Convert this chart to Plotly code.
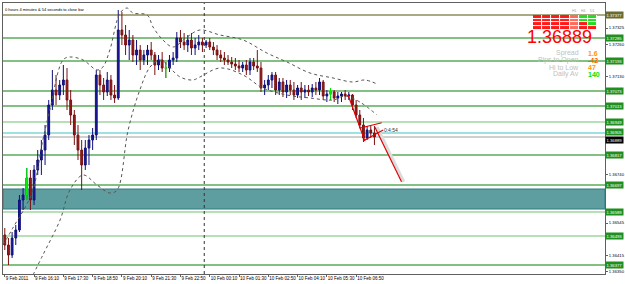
import plotly.graph_objects as go

# ---------------- data ----------------
bar_index = list(range(102))
open_p = [1.36497, 1.36457, 1.36417, 1.36485, 1.36517, 1.36637, 1.36657, 1.36725, 1.36637, 1.36757,
          1.36797, 1.36837, 1.36897, 1.37017, 1.37077, 1.37057, 1.37097, 1.37117, 1.37037, 1.36977,
          1.36897, 1.36837, 1.36777, 1.36845, 1.36877, 1.36897, 1.37137, 1.37097, 1.37069, 1.37117,
          1.37057, 1.37045, 1.37317, 1.37297, 1.37257, 1.37277, 1.37217, 1.37237, 1.37197, 1.37217,
          1.37237, 1.37217, 1.37177, 1.37197, 1.37165, 1.37165, 1.37197, 1.37205, 1.37285, 1.37269,
          1.37257, 1.37277, 1.37245, 1.37257, 1.37269, 1.37257, 1.37269, 1.37249, 1.37237, 1.37217,
          1.37205, 1.37197, 1.37189, 1.37181, 1.37173, 1.37165, 1.37177, 1.37157, 1.37189, 1.37173,
          1.37165, 1.37085, 1.37097, 1.37117, 1.37137, 1.37077, 1.37109, 1.37069, 1.37097, 1.37077,
          1.37057, 1.37085, 1.37069, 1.37077, 1.37069, 1.37085, 1.37077, 1.37109, 1.37053, 1.37061,
          1.37069, 1.37045, 1.37053, 1.37061, 1.37053, 1.37057, 1.37017, 1.36977, 1.36937, 1.36885,
          1.36917, 1.36905]
high_p = [1.36525, 1.36485, 1.36509, 1.36537, 1.36657, 1.36685, 1.36765, 1.36757, 1.36777, 1.36837,
          1.36877, 1.36937, 1.37037, 1.37157, 1.37137, 1.37117, 1.37177, 1.37165, 1.37077, 1.36997,
          1.36937, 1.36877, 1.36877, 1.36897, 1.36925, 1.37157, 1.37157, 1.37125, 1.37149, 1.37137,
          1.37097, 1.37397, 1.37389, 1.37337, 1.37317, 1.37297, 1.37277, 1.37257, 1.37237, 1.37257,
          1.37269, 1.37229, 1.37217, 1.37229, 1.37189, 1.37217, 1.37229, 1.37309, 1.37317, 1.37305,
          1.37297, 1.37305, 1.37285, 1.37297, 1.37285, 1.37277, 1.37285, 1.37269, 1.37257, 1.37237,
          1.37229, 1.37217, 1.37209, 1.37205, 1.37197, 1.37189, 1.37197, 1.37205, 1.37205, 1.37237,
          1.37189, 1.37117, 1.37137, 1.37149, 1.37149, 1.37125, 1.37125, 1.37117, 1.37117, 1.37109,
          1.37097, 1.37109, 1.37097, 1.37097, 1.37101, 1.37109, 1.37125, 1.37117, 1.37077, 1.37085,
          1.37077, 1.37069, 1.37069, 1.37077, 1.37069, 1.37061, 1.37037, 1.36997, 1.36965, 1.36933,
          1.36933, 1.36933]
low_p = [1.36437, 1.36377, 1.36405, 1.36457, 1.36509, 1.36597, 1.36637, 1.36597, 1.36617, 1.36737,
         1.36737, 1.36777, 1.36877, 1.36997, 1.37017, 1.37037, 1.37057, 1.36997, 1.36937, 1.36857,
         1.36797, 1.36677, 1.36757, 1.36777, 1.36837, 1.36877, 1.37057, 1.37037, 1.37053, 1.37037,
         1.37025, 1.37037, 1.37257, 1.37217, 1.37197, 1.37189, 1.37177, 1.37157, 1.37177, 1.37177,
         1.37197, 1.37137, 1.37157, 1.37149, 1.37125, 1.37149, 1.37177, 1.37189, 1.37245, 1.37237,
         1.37229, 1.37217, 1.37217, 1.37237, 1.37229, 1.37245, 1.37237, 1.37217, 1.37197, 1.37189,
         1.37177, 1.37177, 1.37165, 1.37157, 1.37149, 1.37149, 1.37137, 1.37137, 1.37157, 1.37149,
         1.37069, 1.37057, 1.37077, 1.37085, 1.37057, 1.37057, 1.37049, 1.37045, 1.37057, 1.37037,
         1.37045, 1.37037, 1.37045, 1.37053, 1.37049, 1.37057, 1.37057, 1.37037, 1.37029, 1.37037,
         1.37029, 1.37021, 1.37029, 1.37037, 1.37037, 1.36997, 1.36965, 1.36925, 1.36869, 1.36877,
         1.36885, 1.36857]
close_p = [1.36457, 1.36417, 1.36485, 1.36517, 1.36637, 1.36657, 1.36725, 1.36637, 1.36757, 1.36797,
           1.36837, 1.36897, 1.37017, 1.37077, 1.37057, 1.37097, 1.37117, 1.37037, 1.36977, 1.36897,
           1.36837, 1.36777, 1.36845, 1.36877, 1.36897, 1.37137, 1.37097, 1.37069, 1.37117, 1.37057,
           1.37045, 1.37317, 1.37297, 1.37257, 1.37277, 1.37217, 1.37237, 1.37197, 1.37217, 1.37237,
           1.37217, 1.37177, 1.37197, 1.37165, 1.37165, 1.37197, 1.37205, 1.37285, 1.37269, 1.37257,
           1.37277, 1.37245, 1.37257, 1.37269, 1.37257, 1.37269, 1.37249, 1.37237, 1.37217, 1.37205,
           1.37197, 1.37189, 1.37181, 1.37173, 1.37165, 1.37177, 1.37157, 1.37189, 1.37173, 1.37165,
           1.37085, 1.37097, 1.37117, 1.37137, 1.37077, 1.37109, 1.37069, 1.37097, 1.37077, 1.37057,
           1.37085, 1.37069, 1.37077, 1.37069, 1.37085, 1.37077, 1.37109, 1.37053, 1.37061, 1.37069,
           1.37045, 1.37053, 1.37061, 1.37053, 1.37057, 1.37017, 1.36977, 1.36937, 1.36885, 1.36917,
           1.36905, 1.36889]
highlight_bars = [6, 44, 89]

upper_band_x = [-0.5, 2.2, 7.4, 10.4, 12.3, 15.9, 17.8, 21.4, 25.2, 26.8, 28.7, 31.5, 33.4, 35.0,
                38.9, 40.5, 43.2, 46.0, 49.8, 53.3, 58.8, 65.1, 71.6, 77.1, 83.4, 89.7, 95.1, 98.4, 101.7]
upper_band_y = [1.36457, 1.36525, 1.36665, 1.36877, 1.36997, 1.37197, 1.37209, 1.37197, 1.37157,
                1.37169, 1.37237, 1.37385, 1.37405, 1.37385, 1.37377, 1.37329, 1.37277, 1.37249,
                1.37289, 1.37317, 1.37297, 1.37277, 1.37225, 1.37189, 1.37145, 1.37125, 1.37109,
                1.37117, 1.37101]
lower_band_x = [7.7, 10.4, 15.1, 17.8, 21.4, 25.2, 28.7, 30.7, 33.7, 36.9, 39.7, 42.4, 47.9, 51.4,
                53.3, 58.8, 65.1, 70.5, 77.1, 83.4, 89.7, 93.0, 97.0, 101.7]
lower_band_y = [1.36337, 1.36417, 1.36557, 1.36677, 1.36737, 1.36697, 1.36665, 1.36677, 1.36917,
                1.37077, 1.37169, 1.37197, 1.37129, 1.37117, 1.37129, 1.37165, 1.37137, 1.37085,
                1.37057, 1.37045, 1.37037, 1.37053, 1.37029, 1.36977]

x_tick_bars = [0, 8, 16, 24, 32, 40, 48, 56, 64, 72, 80, 88, 96]
x_tick_labels = ["9 Feb 2011", "9 Feb 16:10", "9 Feb 17:30", "9 Feb 18:50", "9 Feb 20:10",
                 "9 Feb 21:30", "9 Feb 22:50", "10 Feb 00:10", "10 Feb 01:30", "10 Feb 02:50",
                 "10 Feb 04:10", "10 Feb 05:30", "10 Feb 06:50"]
day_separator_bar = 54.5

y_tick_values = [1.36350, 1.36415, 1.36480, 1.36545, 1.36610, 1.36675, 1.36740, 1.36805, 1.36870,
                 1.36935, 1.37000, 1.37065, 1.37130, 1.37195, 1.37260, 1.37325, 1.37390]

level_prices = [1.37377, 1.37285, 1.37193, 1.37073, 1.37013, 1.36949, 1.36817, 1.36697,
                1.36589, 1.36493, 1.36377]
level_kinds = ["olive", "green", "green", "green", "green", "light", "green", "green",
               "light", "light", "green"]
cyan_level = 1.36905
bid_price = 1.36889
zone_low, zone_high = 1.36601, 1.36681

trend_lines = [((93.8, 1.37057), (98.4, 1.36873)),
               ((96.9, 1.36924), (103.0, 1.36946)),
               ((97.9, 1.36873), (103.4, 1.36917)),
               ((101.1, 1.36929), (108.4, 1.36710))]
arrow_line = trend_lines[3]
timer_label = "0:4:54"
timer_label_pos = (103.6, 1.36915)

signal_rows = ["STO", "MACD", "STR", "EMA"]
signal_cols = ["", "", "", "", "H1", "H4", "D1"]
signal_matrix = [[0, 0, 0, 0, 1, 2, 2],
                 [0, 0, 0, 0, 1, 2, 2],
                 [0, 0, 0, 0, 1, 0, 2],
                 [0, 0, 0, 0, 1, 0, 0]]

info_labels = ["Spread", "Pips to Open", "Hi to Low", "Daily Av"]
info_values = ["1.6", "-42", "47", "140"]
info_colors = ["#ff9900", "#ff5a00", "#ff9900", "#00e000"]
countdown_text = "0 hours 4 minutes & 54 seconds to close bar"

# ---------------- figure ----------------
FONT = "Liberation Sans, Arial, sans-serif"
fig = go.Figure()

# soft shadow under the projected move
fig.add_trace(go.Scatter(x=[arrow_line[0][0] + 0.6, arrow_line[1][0] + 0.6],
                         y=[arrow_line[0][1], arrow_line[1][1]], mode="lines",
                         line=dict(color="#dcdcdc", width=3), showlegend=False, hoverinfo="skip"))

fig.add_trace(go.Candlestick(
    x=bar_index, open=open_p, high=high_p, low=low_p, close=close_p,
    increasing=dict(line=dict(color="#10107a", width=1), fillcolor="#1a1a9a"),
    decreasing=dict(line=dict(color="#7a1010", width=1), fillcolor="#9a1a1a"),
    whiskerwidth=0, showlegend=False, hoverinfo="skip"))

fig.add_trace(go.Candlestick(
    x=highlight_bars,
    open=[open_p[i] for i in highlight_bars], high=[high_p[i] for i in highlight_bars],
    low=[low_p[i] for i in highlight_bars], close=[close_p[i] for i in highlight_bars],
    increasing=dict(line=dict(color="#00ee00", width=1), fillcolor="#00ee00"),
    decreasing=dict(line=dict(color="#00ee00", width=1), fillcolor="#00ee00"),
    whiskerwidth=0, showlegend=False, hoverinfo="skip"))

for bx, by in ((upper_band_x, upper_band_y), (lower_band_x, lower_band_y)):
    fig.add_trace(go.Scatter(x=bx, y=by, mode="lines", line=dict(color="#555555", width=1, dash="dot"),
                             line_shape="spline", showlegend=False, hoverinfo="skip"))

for (x0, y0), (x1, y1) in trend_lines:
    fig.add_trace(go.Scatter(x=[x0, x1], y=[y0, y1], mode="lines",
                             line=dict(color="#e00000", width=1.2), showlegend=False, hoverinfo="skip"))

fig.add_trace(go.Scatter(x=[timer_label_pos[0]], y=[timer_label_pos[1]], mode="text",
                         text=[timer_label], textposition="middle right",
                         textfont=dict(size=5, color="#333333", family=FONT),
                         showlegend=False, hoverinfo="skip"))

shapes = []
annotations = []
level_color = {"olive": "#8c8c5a", "green": "#5aac5a", "light": "#b8e0b8"}
label_bg = {"olive": "#6b6b2e", "green": "#1f8f1f", "light": "#1f8f1f"}

shapes.append(dict(type="rect", xref="paper", x0=0, x1=1, yref="y", y0=zone_low, y1=zone_high,
                   fillcolor="#5f9ea0", line=dict(color="#2e7d7f", width=1), layer="below"))
for p, k in zip(level_prices, level_kinds):
    shapes.append(dict(type="line", xref="paper", x0=0, x1=1, yref="y", y0=p, y1=p,
                       line=dict(color=level_color[k], width=1.6 if k != "light" else 2), layer="below"))
    annotations.append(dict(xref="paper", x=1.0, xanchor="left", yref="y", y=p, yanchor="middle",
                            text=f"{p:.5f}", showarrow=False, bgcolor=label_bg[k], borderpad=0.5,
                            font=dict(size=4.2, color="white", family=FONT)))
shapes.append(dict(type="line", xref="paper", x0=0, x1=1, yref="y", y0=cyan_level, y1=cyan_level,
                   line=dict(color="#3fc4c4", width=1.2), layer="below"))
annotations.append(dict(xref="paper", x=1.0, xanchor="left", yref="y", y=cyan_level, yanchor="middle",
                        yshift=1, text=f"{cyan_level:.5f}", showarrow=False, bgcolor="#1f8f1f",
                        borderpad=0.5, font=dict(size=4.2, color="white", family=FONT)))
shapes.append(dict(type="line", xref="paper", x0=0, x1=1, yref="y", y0=bid_price, y1=bid_price,
                   line=dict(color="#a0a0a0", width=1), layer="below"))
annotations.append(dict(xref="paper", x=1.0, xanchor="left", yref="y", y=bid_price, yanchor="middle",
                        yshift=-3, text=f"{bid_price:.5f}", showarrow=False, bgcolor="#000000",
                        borderpad=0.5, font=dict(size=4.2, color="white", family=FONT)))
shapes.append(dict(type="line", xref="x", x0=day_separator_bar, x1=day_separator_bar, yref="paper",
                   y0=0, y1=1, line=dict(color="#333333", width=1, dash="dot"), layer="below"))

# y tick labels hidden where a price label covers them (as the terminal does)
label_prices = level_prices + [cyan_level, bid_price]
shown_ticks = [v for v in y_tick_values if min(abs(v - p) for p in label_prices) > 0.00024]

# signal grid
fig.add_trace(go.Heatmap(z=signal_matrix, x=list(range(7)), y=list(range(4)), xaxis="x2", yaxis="y2",
                         colorscale=[[0, "#ff1a1a"], [0.5, "#ff6a5a"], [1, "#22dd22"]],
                         zmin=0, zmax=2, showscale=False, xgap=1, ygap=1, hoverinfo="skip"))
for r, name in enumerate(signal_rows):
    annotations.append(dict(xref="x2", x=-0.55, xanchor="right", yref="y2", y=r, yanchor="middle",
                            text=name, showarrow=False, font=dict(size=3.5, color="#a0a0a0", family=FONT)))
for c, name in enumerate(signal_cols):
    if name:
        annotations.append(dict(xref="x2", x=c, xanchor="center", yref="y2", y=-0.5, yanchor="bottom",
                                text=name, showarrow=False, font=dict(size=3.5, color="#a0a0a0", family=FONT)))

# big price + info
annotations.append(dict(xref="paper", yref="paper", x=0.9244, y=0.874, xanchor="center", yanchor="middle",
                        text=f"{bid_price:.5f}", showarrow=False,
                        font=dict(size=18, color="#ff0000", family=FONT)))
info_y = [0.815, 0.789, 0.7635, 0.7377]
for lab, val, col, yy in zip(info_labels, info_values, info_colors, info_y):
    annotations.append(dict(xref="paper", yref="paper", x=0.9601, y=yy, xanchor="right", yanchor="middle",
                            text=lab, showarrow=False, font=dict(size=7, color="#c0c0c0", family=FONT)))
    annotations.append(dict(xref="paper", yref="paper", x=0.9686, y=yy, xanchor="left", yanchor="middle",
                            text=f"<b>{val}</b>", showarrow=False, font=dict(size=7, color=col, family=FONT)))
annotations.append(dict(xref="paper", yref="paper", x=0.0, y=0.975, xanchor="left", yanchor="middle",
                        text=countdown_text, showarrow=False, font=dict(size=4, color="#000000", family=FONT)))

fig.update_layout(
    width=625, height=284, margin=dict(l=3, r=20, t=3, b=10, autoexpand=False),
    paper_bgcolor="white", plot_bgcolor="white",
    font=dict(family=FONT, size=4.5, color="#000000"),
    shapes=shapes, annotations=annotations, showlegend=False,
    xaxis=dict(range=[-0.49, 164.0], rangeslider=dict(visible=False), showgrid=False, zeroline=False,
               showline=True, mirror=True, linecolor="#606060", linewidth=1,
               tickmode="array", tickvals=x_tick_bars, ticktext=x_tick_labels, tickangle=0,
               ticks="outside", ticklen=2, tickcolor="#606060", ticklabelposition="outside right",
               tickfont=dict(size=4.5, family=FONT), automargin=False, fixedrange=True),
    yaxis=dict(range=[1.36341, 1.37425], side="right", showgrid=False, zeroline=False,
               showline=True, mirror=True, linecolor="#606060", linewidth=1, automargin=False,
               tickmode="array", tickvals=shown_ticks, ticktext=[f"{v:.5f}" for v in shown_ticks],
               ticks="outside", ticklen=2, tickcolor="#606060", tickfont=dict(size=4.2, family=FONT)),
    xaxis2=dict(domain=[0.8804, 0.9867], range=[-0.5, 6.5], visible=False, anchor="y2"),
    yaxis2=dict(domain=[0.9004, 0.9557], range=[3.5, -0.5], visible=False, anchor="x2"),
)

fig.write_html("out.html")
